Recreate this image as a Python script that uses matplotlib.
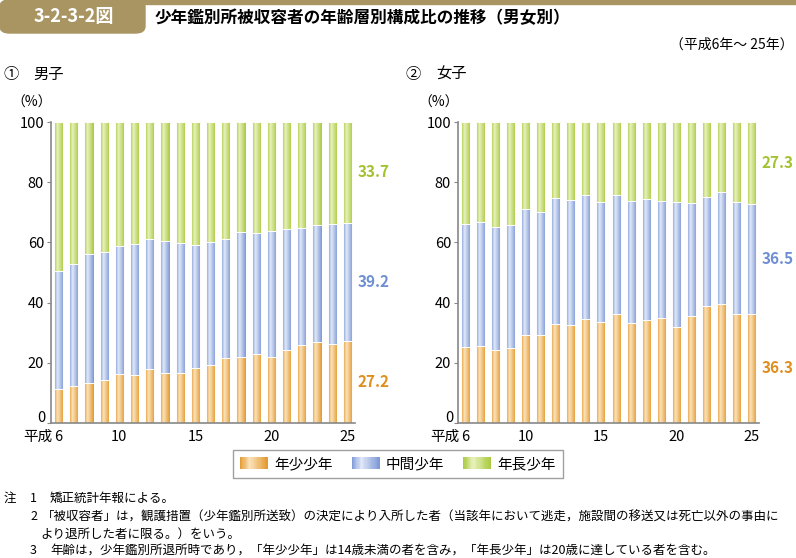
import numpy as np
import matplotlib
matplotlib.use('Agg')
import matplotlib.pyplot as plt
from matplotlib.colors import LinearSegmentedColormap
from matplotlib.patches import Patch, FancyBboxPatch, Rectangle
from matplotlib.legend_handler import HandlerBase
from matplotlib.transforms import blended_transform_factory, offset_copy

plt.rcParams['font.family'] = ['Noto Sans CJK JP', 'DejaVu Sans']

# data -------------------------------------------------
years = list(range(6, 26))
xticks = [6, 10, 15, 20, 25]
yticks = [0, 20, 40, 60, 80, 100]
series_names = ['年少少年', '中間少年', '年長少年']

male_young = [11.4, 12.2, 13.4, 14.3, 16.3, 16.1, 17.9, 16.6, 16.6, 18.2,
              19.2, 21.7, 21.9, 22.8, 21.9, 24.1, 25.9, 26.8, 26.1, 27.2]
male_middle = [39.0, 40.5, 42.6, 42.4, 42.4, 43.3, 43.1, 43.8, 43.1, 40.8,
               40.8, 39.3, 41.4, 40.4, 42.0, 40.2, 38.8, 38.9, 39.9, 39.2]
male_old = [49.6, 47.3, 44.0, 43.3, 41.3, 40.6, 39.0, 39.6, 40.3, 41.0,
            40.0, 39.0, 36.7, 36.8, 36.1, 35.7, 35.3, 34.3, 34.0, 33.7]

female_young = [25.2, 25.7, 24.4, 24.9, 29.1, 29.1, 33.0, 32.6, 34.6, 33.4,
                36.1, 33.1, 34.3, 34.8, 31.9, 35.7, 38.9, 39.5, 36.2, 36.3]
female_middle = [40.9, 41.0, 40.7, 40.9, 42.0, 41.0, 41.6, 41.6, 41.1, 39.9,
                 39.6, 40.7, 40.1, 39.0, 41.4, 37.3, 36.1, 37.1, 37.1, 36.5]
female_old = [33.9, 33.3, 34.9, 34.2, 28.9, 29.9, 25.4, 25.8, 24.3, 26.7,
              24.3, 26.2, 25.6, 26.2, 26.7, 27.0, 25.0, 23.4, 26.7, 27.3]

notes = [
    ('注', '1', '矯正統計年報による。'),
    ('', '2', '「被収容者」は，観護措置（少年鑑別所送致）の決定により入所した者（当該年において逃走，施設間の移送又は死亡以外の事由に'),
    ('', '', 'より退所した者に限る。）をいう。'),
    ('', '3', '年齢は，少年鑑別所退所時であり，「年少少年」は14歳未満の者を含み，「年長少年」は20歳に達している者を含む。'),
]

# colours: edge, highlight, label colour
dark = ['#E3992F', '#7D98D6', '#A9C93C']
light = ['#FBE3BC', '#E2E9F8', '#E8F1BE']
label_col = ['#E08E1E', '#6F8FD3', '#A3C230']
gold = '#A99562'
W, H = 796, 558

cmaps = [LinearSegmentedColormap.from_list('g%d' % i, [(0, dark[i]), (0.35, light[i]), (1, dark[i])])
         for i in range(3)]

fig = plt.figure(figsize=(W / 100, H / 100), dpi=100)


def px_axes(x0, y0, x1, y1):
    return fig.add_axes([x0 / W, 1 - y1 / H, (x1 - x0) / W, (y1 - y0) / H])


def draw_panel(ax, young, middle, old):
    grad = np.linspace(0, 1, 64).reshape(1, -1)
    bottom = np.zeros(len(years))
    for i, vals in enumerate([young, middle, old]):
        bars = ax.bar(years, vals, 0.6, bottom=bottom, color='none',
                      edgecolor='white', linewidth=0.7, zorder=2)
        for p in bars.patches:
            x0, y0 = p.get_x(), p.get_y()
            im = ax.imshow(grad, cmap=cmaps[i], aspect='auto', interpolation='bilinear',
                           extent=(x0, x0 + p.get_width(), y0, y0 + p.get_height()), zorder=1)
            im.set_clip_path(p)
        # value label for the last year
        ax.text(25.65, bottom[-1] + vals[-1] / 2, '%.1f' % vals[-1], color=label_col[i],
                fontsize=11, fontweight='bold', va='center', ha='left', clip_on=False)
        bottom = bottom + np.array(vals)
    ax.set_xlim(5.5, 25.5)
    ax.set_ylim(0, 100)
    ax.set_yticks(yticks)
    # the "0" label is drawn separately, sitting just on the axis line
    ax.set_yticklabels([''] + [str(t) for t in yticks[1:]])
    ax.set_xticks(xticks)
    ax.set_xticklabels([str(t) for t in xticks])
    ax.tick_params(axis='x', length=0, labelsize=10.5, pad=5)
    ax.tick_params(axis='y', length=3, color='#888888', labelsize=10.5, pad=2)
    for s in ['top', 'right']:
        ax.spines[s].set_visible(False)
    for s in ['left', 'bottom']:
        ax.spines[s].set_color('#888888')
        ax.spines[s].set_linewidth(1.2)
    tr = blended_transform_factory(ax.transAxes, ax.transData)
    ax.text(-0.0165, yticks[0], '0', transform=offset_copy(tr, fig=fig, y=0.5, units='points'),
            ha='right', va='baseline', fontsize=10.5)
    tr2 = blended_transform_factory(ax.transData, ax.transAxes)
    ax.text(5.63, 0, '平成', transform=offset_copy(tr2, fig=fig, y=-5, units='points'),
            ha='right', va='top', fontsize=10.5)


ax1 = px_axes(51, 122, 355, 423)
draw_panel(ax1, male_young, male_middle, male_old)
ax2 = px_axes(458, 122, 759, 423)
draw_panel(ax2, female_young, female_middle, female_old)

# header -------------------------------------------------
fig.patches.append(Rectangle((140 / W, 1 - 4 / H), 1 - 140 / W, 4 / H,
                             transform=fig.transFigure, color=gold, zorder=0))
fig.patches.append(FancyBboxPatch((0, 1 - 33 / H), 145 / W, 33 / H,
                                  boxstyle='round,pad=0,rounding_size=0.012',
                                  transform=fig.transFigure, color=gold, zorder=0))
fig.text(74 / W, 1 - 17 / H, '3-2-3-2図', color='white', fontsize=13,
         fontweight='bold', ha='center', va='center')
fig.text(155 / W, 1 - 18 / H, '少年鑑別所被収容者の年齢層別構成比の推移（男女別）',
         fontsize=12, fontweight='bold', ha='left', va='center')
fig.text(794 / W, 1 - 45 / H, '（平成6年～ 25年）', fontsize=10, ha='right', va='center')

fig.text(3 / W, 1 - 74 / H, '①', fontsize=11, ha='left', va='center')
fig.text(33 / W, 1 - 74 / H, '男子', fontsize=11, ha='left', va='center')
fig.text(405 / W, 1 - 74 / H, '②', fontsize=11, ha='left', va='center')
fig.text(436 / W, 1 - 74 / H, '女子', fontsize=11, ha='left', va='center')
fig.text(32 / W, 1 - 103 / H, '（%）', fontsize=10, ha='center', va='center')
fig.text(439 / W, 1 - 103 / H, '（%）', fontsize=10, ha='center', va='center')


# legend with gradient swatches
class GradHandler(HandlerBase):
    def __init__(self, cmap):
        super().__init__()
        self.cmap = cmap

    def create_artists(self, legend, orig_handle, xdescent, ydescent, width, height, fontsize, trans):
        n = 24
        arts = []
        for k in range(n):
            r = Rectangle((-xdescent + width * k / n, -ydescent), width / n + 0.3, height,
                          facecolor=self.cmap((k + 0.5) / n), edgecolor='none', transform=trans)
            arts.append(r)
        return arts


handles = [Patch(facecolor=dark[i], edgecolor='none') for i in range(3)]
fig.legend(handles, series_names, loc='center', bbox_to_anchor=(398 / W, 1 - 464 / H),
           ncol=3, frameon=True, fancybox=False, edgecolor='#888888', fontsize=10.5,
           handlelength=1.9, handleheight=0.8, handletextpad=0.45, columnspacing=1.3,
           borderpad=0.45, handler_map={handles[i]: GradHandler(cmaps[i]) for i in range(3)})

# notes
ys = [498, 517, 534, 550]
for (a, b, t), y in zip(notes, ys):
    fig.text(4 / W, 1 - y / H, a, fontsize=9, ha='left', va='center')
    fig.text(30 / W, 1 - y / H, b, fontsize=9, ha='left', va='center')
    if t.startswith('より'):
        tx = 40
    elif t.startswith('「'):
        tx = 42
    else:
        tx = 50
    fig.text(tx / W, 1 - y / H, t, fontsize=9, ha='left', va='center')

fig.savefig('out.png', dpi=100)
